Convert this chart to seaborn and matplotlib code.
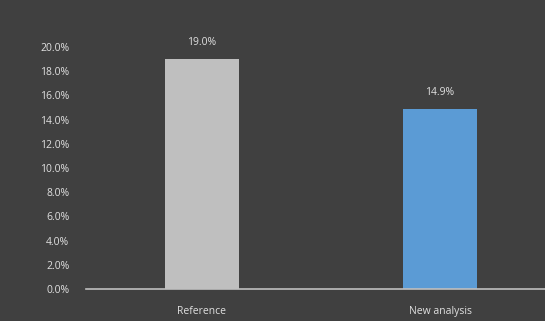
import matplotlib
matplotlib.use("Agg")
import matplotlib.pyplot as plt
import seaborn as sns
import pandas as pd
from matplotlib.ticker import PercentFormatter

categories = ["Reference", "New analysis"]
values = [0.190, 0.149]
colors = ["#bfbfbf", "#5b9bd5"]

df = pd.DataFrame({"cat": categories, "val": values})

sns.set_theme(style="dark")
plt.rcParams['font.family'] = ['Open Sans', 'DejaVu Sans']
bg = "#404040"
fig = plt.figure(figsize=(5.45, 3.21), dpi=100, facecolor=bg)
W, H = 545, 321
ax = fig.add_axes([86 / W, 1 - 289 / H, (545 - 86) / W, (289 - 47) / H])
ax.set_facecolor(bg)

sns.barplot(data=df, x="cat", y="val", hue="cat", palette=colors, legend=False,
            width=0.311, ax=ax, saturation=1, linewidth=0, edgecolor="none")

ax.set_xlim(-0.487, 1.441)
ax.set_ylim(0, 0.20)
ax.set_yticks([i * 0.02 for i in range(11)])
ax.yaxis.set_major_formatter(PercentFormatter(1.0, decimals=1))
ax.set_xlabel("")
ax.set_ylabel("")
for s in ["top", "right", "left"]:
    ax.spines[s].set_visible(False)
ax.spines["bottom"].set_color("#bfbfbf")
ax.spines["bottom"].set_linewidth(1.2)
ax.tick_params(axis="both", length=0, colors="#e0e0e0", labelsize=7.5)
ax.tick_params(axis="y", pad=12)
ax.tick_params(axis="x", pad=12)
ax.grid(False)

for p, v in zip(ax.patches, values):
    ax.annotate(f"{v*100:.1f}%", (p.get_x() + p.get_width() / 2, p.get_height()),
                xytext=(0, 8), textcoords="offset points", ha="center", va="bottom",
                color="#e0e0e0", fontsize=7.5, annotation_clip=False)

fig.savefig("out.png", dpi=100, facecolor=bg)
